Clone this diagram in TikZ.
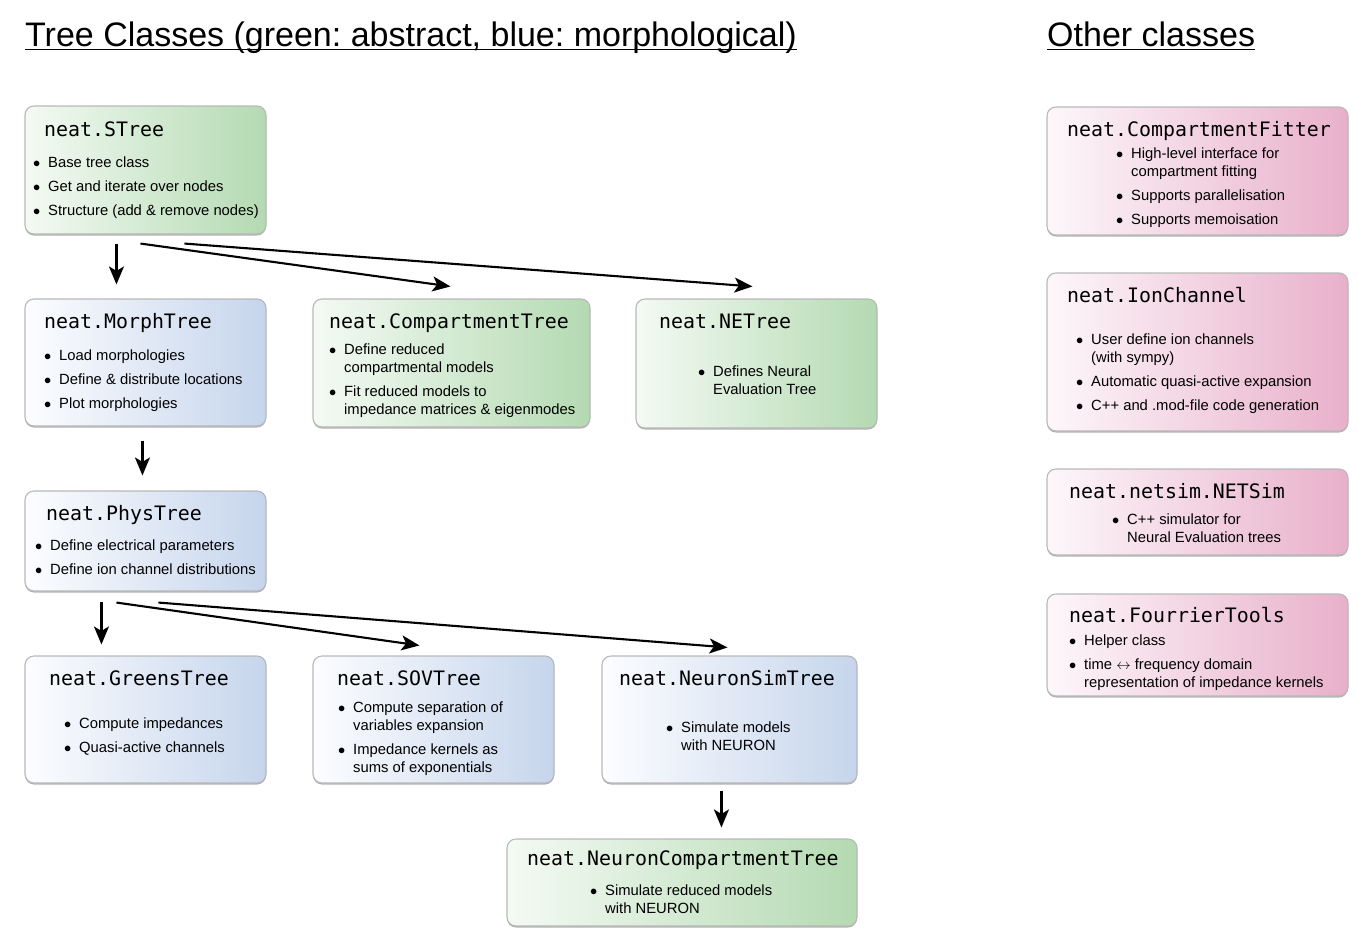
\documentclass[tikz,border=0pt]{standalone}
\usepackage{fontspec}
\setmainfont{Liberation Sans}
\newfontfamily\monofam{DejaVu Sans Mono}
\usetikzlibrary{arrows.meta,calc,shadows}
\frenchspacing
\definecolor{gR}{RGB}{180,218,178}
\definecolor{gL}{RGB}{244,250,244}
\definecolor{bR}{RGB}{198,213,236}
\definecolor{bL}{RGB}{252,253,255}
\definecolor{pR}{RGB}{232,176,202}
\definecolor{pL}{RGB}{253,247,250}
\newcommand\bul{\makebox[14pt][l]{\hspace{-1pt}$\bullet$}}
\newcommand\mkbox[6]{\node[#6,minimum width={#4-#2},minimum height={#5-#3}] (#1) at ({(#2+#4)/2},{(#3+#5)/2}) {};}
\tikzset{
  box/.style={rounded corners=9pt, draw=black!28, line width=1.1pt, inner sep=0pt,
    drop shadow={shadow xshift=0pt, shadow yshift=-1.5pt, opacity=0.3, fill=black}},
  gbox/.style={box, left color=gL, right color=gR},
  bbox/.style={box, left color=bL, right color=bR},
  pbox/.style={box, left color=pL, right color=pR},
  ttl/.style={anchor=base west, inner sep=0pt, font=\monofam\fontsize{19.9}{24}\selectfont},
  lst/.style={anchor=base west, inner sep=0pt, font=\fontsize{14.8}{18}\selectfont},
  hdr/.style={anchor=base west, inner sep=0pt, font=\fontsize{34}{40}\selectfont},
  arr/.style={line width=2.1pt, -{Stealth[length=18pt, width=15pt, inset=4.5pt]}},
}
\begin{document}
\begin{tikzpicture}[x=1pt,y=-1pt]
\useasboundingbox (0,0) rectangle (1371,946);
% headings
\node[hdr] (h1) at (25,46) {Tree Classes (green: abstract, blue: morphological)};
\draw[line width=1.8pt] ($(h1.base west)+(0,3.5)$) -- ($(h1.base east)+(0,3.5)$);
\node[hdr] (h2) at (1047,46) {Other classes};
\draw[line width=1.8pt] ($(h2.base west)+(0,3.5)$) -- ($(h2.base east)+(0,3.5)$);

% boxes
\mkbox{STree}{25}{106}{266}{234}{gbox}
\mkbox{Morph}{25}{299}{266}{426}{bbox}
\mkbox{Comp}{313}{299}{590}{427}{gbox}
\mkbox{NET}{636}{299}{877}{428}{gbox}
\mkbox{Phys}{25}{491}{266}{591}{bbox}
\mkbox{Greens}{25}{656}{266}{783}{bbox}
\mkbox{SOV}{313}{656}{554}{783}{bbox}
\mkbox{NSim}{602}{656}{857}{783}{bbox}
\mkbox{NCT}{507}{839}{857}{926}{gbox}
\mkbox{CFit}{1047}{107}{1348}{235}{pbox}
\mkbox{Ion}{1047}{273}{1348}{431}{pbox}
\mkbox{Sim}{1047}{469}{1348}{555}{pbox}
\mkbox{Four}{1047}{594}{1348}{696}{pbox}

% titles
\node[ttl] (STree-t) at (44,136) {neat.STree};
\node[ttl] (Morph-t) at (44,328) {neat.MorphTree};
\node[ttl] (Comp-t) at (329,328) {neat.CompartmentTree};
\node[ttl] (NET-t) at (659,328) {neat.NETree};
\node[ttl] (Phys-t) at (46,520) {neat.PhysTree};
\node[ttl] (Greens-t) at (49,685) {neat.GreensTree};
\node[ttl] (SOV-t) at (337,685) {neat.SOVTree};
\node[ttl] (NSim-t) at (619,685) {neat.NeuronSimTree};
\node[ttl] (NCT-t) at (527,865) {neat.NeuronCompartmentTree};
\node[ttl] (CFit-t) at (1067,136) {neat.CompartmentFitter};
\node[ttl] (Ion-t) at (1067,302) {neat.IonChannel};
\node[ttl] (Sim-t) at (1069,498) {neat.netsim.NETSim};
\node[ttl] (Four-t) at (1069,622) {neat.FourrierTools};

% lists
\node[lst] (STree-l) at (34,167) {\begin{tabular}[t]{@{}l@{}l@{}}
\bul & Base tree class\\[6pt]
\bul & Get and iterate over nodes\\[6pt]
\bul & Structure (add \& remove nodes)\end{tabular}};
\node[lst] (Morph-l) at (45,360) {\begin{tabular}[t]{@{}l@{}l@{}}
\bul & Load morphologies\\[6pt]
\bul & Define \& distribute locations\\[6pt]
\bul & Plot morphologies\end{tabular}};
\node[lst] (Comp-l) at (330,354) {\begin{tabular}[t]{@{}l@{}l@{}}
\bul & Define reduced\\
 & compartmental models\\[6pt]
\bul & Fit reduced models to\\
 & impedance matrices \& eigenmodes\end{tabular}};
\node[lst] (NET-l) at (699,376) {\begin{tabular}[t]{@{}l@{}l@{}}
\bul & Defines Neural\\
 & Evaluation Tree\end{tabular}};
\node[lst] (Phys-l) at (36,550) {\begin{tabular}[t]{@{}l@{}l@{}}
\bul & Define electrical parameters\\[6pt]
\bul & Define ion channel distributions\end{tabular}};
\node[lst] (Greens-l) at (65,728) {\begin{tabular}[t]{@{}l@{}l@{}}
\bul & Compute impedances\\[6pt]
\bul & Quasi-active channels\end{tabular}};
\node[lst] (SOV-l) at (339,712) {\begin{tabular}[t]{@{}l@{}l@{}}
\bul & Compute separation of\\
 & variables expansion\\[6pt]
\bul & Impedance kernels as\\
 & sums of exponentials\end{tabular}};
\node[lst] (NSim-l) at (667,732) {\begin{tabular}[t]{@{}l@{}l@{}}
\bul & Simulate models\\
 & with NEURON\end{tabular}};
\node[lst] (NCT-l) at (591,895) {\begin{tabular}[t]{@{}l@{}l@{}}
\bul & Simulate reduced models\\
 & with NEURON\end{tabular}};
\node[lst] (CFit-l) at (1117,158) {\begin{tabular}[t]{@{}l@{}l@{}}
\bul & High-level interface for\\
 & compartment fitting\\[6pt]
\bul & Supports parallelisation\\[6pt]
\bul & Supports memoisation\end{tabular}};
\node[lst] (Ion-l) at (1077,344) {\begin{tabular}[t]{@{}l@{}l@{}}
\bul & User define ion channels\\
 & (with sympy)\\[6pt]
\bul & Automatic quasi-active expansion\\[6pt]
\bul & C++ and .mod-file code generation\end{tabular}};
\node[lst] (Sim-l) at (1113,524) {\begin{tabular}[t]{@{}l@{}l@{}}
\bul & C++ simulator for\\
 & Neural Evaluation trees\end{tabular}};
\node[lst] (Four-l) at (1070,645) {\begin{tabular}[t]{@{}l@{}l@{}}
\bul & Helper class\\[6pt]
\bul & time $\leftrightarrow$ frequency domain\\
 & representation of impedance kernels\end{tabular}};

% arrows
\draw[arr] ($(STree.south west)+(92,9)$) -- ($(Morph.north west)+(92,-14)$);
\draw[arr] ($(STree.south west)+(116,9)$) -- ($(Comp.north west)+(138,-12)$);
\draw[arr] ($(STree.south west)+(160,9)$) -- ($(NET.north west)+(117,-12)$);
\draw[arr] ($(Morph.south west)+(118,14)$) -- ($(Phys.north west)+(118,-15)$);
\draw[arr] ($(Phys.south west)+(77,10)$) -- ($(Greens.north west)+(77,-11)$);
\draw[arr] ($(Phys.south west)+(92,11)$) -- ($(SOV.north west)+(107,-10)$);
\draw[arr] ($(Phys.south west)+(134,11)$) -- ($(NSim.north west)+(126,-8)$);
\draw[arr] ($(NSim.south west)+(120,7)$) -- ($(NCT.north west)+(215,-11)$);
\end{tikzpicture}
\end{document}
